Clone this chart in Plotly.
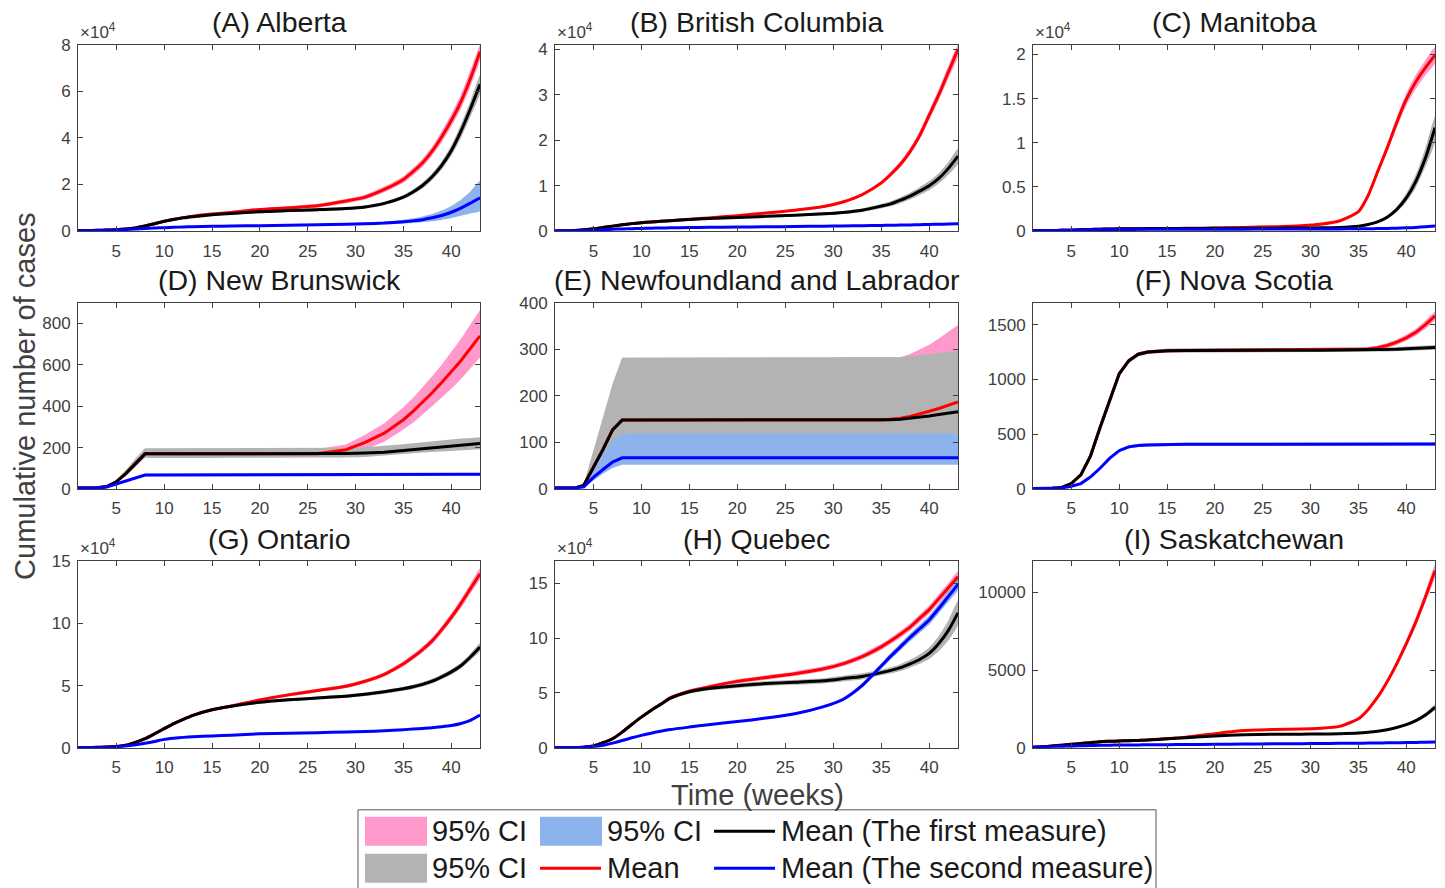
import plotly.graph_objects as go

# Week numbers at which every series is sampled
WEEKS = [1, 2, 3, 4, 5, 6, 7, 8, 9, 10, 11, 12, 13, 15, 17, 20, 23, 26, 29, 31,
         33, 35, 36, 37, 38, 39, 40, 41, 42, 43]

# ---------------- (A) Alberta ----------------
AB_RED = [200, 250, 350, 450, 600, 900, 1400, 2200, 3200, 4200, 5100, 5800, 6400, 7300, 8000, 9300, 10000, 10900, 12900, 14600,
          17900, 22200, 25500, 29300, 34300, 40500, 47500, 55500, 65500, 77000]
AB_RED_LO = [150, 200, 300, 400, 520, 800, 1250, 2000, 2950, 3900, 4750, 5400, 5950, 6800, 7450, 8650, 9300, 10100, 12000, 13600,
             16700, 20800, 23900, 27500, 32300, 38100, 44800, 52500, 62000, 73500]
AB_RED_HI = [250, 300, 400, 500, 680, 1000, 1550, 2400, 3450, 4500, 5450, 6200, 6850, 7800, 8550, 9950, 10700, 11700, 13800, 15600,
             19100, 23600, 27100, 31100, 36300, 42900, 50200, 58500, 69000, 79800]
AB_BLK = [200, 250, 350, 450, 600, 900, 1400, 2200, 3200, 4200, 5000, 5700, 6200, 7000, 7600, 8300, 8800, 9200, 9700, 10400,
          11900, 14600, 16800, 19600, 23300, 28200, 34500, 42800, 52500, 63000]
AB_BLK_LO = [150, 200, 300, 400, 520, 800, 1250, 2000, 2950, 3900, 4650, 5300, 5750, 6500, 7050, 7700, 8150, 8500, 9100, 9750,
             11150, 13650, 15700, 18300, 21800, 26400, 32300, 40000, 49200, 59000]
AB_BLK_HI = [250, 300, 400, 500, 680, 1000, 1550, 2400, 3450, 4500, 5350, 6100, 6650, 7500, 8150, 8900, 9450, 9900, 10300, 11050,
             12650, 15550, 17900, 20900, 24800, 30000, 36700, 45600, 55800, 67000]
AB_BLU = [100, 150, 250, 350, 500, 700, 900, 1100, 1300, 1500, 1650, 1780, 1900, 2050, 2200, 2350, 2500, 2700, 2950, 3150,
          3450, 4000, 4400, 4900, 5700, 6700, 8100, 9900, 12000, 14300]
AB_BLU_LO = [80, 120, 200, 300, 430, 600, 780, 950, 1130, 1300, 1430, 1540, 1640, 1770, 1900, 2020, 2150, 2320, 2520, 2680,
             2900, 3200, 3450, 3800, 4200, 4800, 5600, 6600, 7600, 8600]
AB_BLU_HI = [120, 180, 300, 400, 570, 800, 1020, 1250, 1470, 1700, 1870, 2020, 2160, 2330, 2500, 2680, 2860, 3100, 3400, 3650,
             4050, 4900, 5500, 6300, 7300, 8800, 10800, 13500, 17000, 21500]

# ---------------- (B) British Columbia ----------------
BC_RED = [40, 80, 150, 300, 500, 800, 1100, 1400, 1650, 1850, 2000, 2150, 2300, 2600, 2900, 3400, 4000, 4600, 5400, 6400,
          8000, 10600, 12500, 14700, 17500, 21000, 25500, 30000, 35000, 40000]
BC_RED_LO = [30, 70, 130, 270, 460, 750, 1030, 1320, 1560, 1750, 1890, 2030, 2170, 2450, 2740, 3220, 3790, 4370, 5130, 6080,
             7630, 10150, 11950, 14050, 16750, 20100, 24450, 28800, 33600, 38400]
BC_RED_HI = [50, 90, 170, 330, 540, 850, 1170, 1480, 1740, 1950, 2110, 2270, 2430, 2750, 3060, 3580, 4210, 4830, 5670, 6720,
             8370, 11050, 13050, 15350, 18250, 21900, 26550, 31200, 36400, 41000]
BC_BLK = [40, 80, 150, 300, 500, 800, 1100, 1400, 1650, 1850, 2000, 2150, 2300, 2550, 2750, 3000, 3250, 3500, 3800, 4100,
          4600, 5500, 6000, 6800, 7700, 8800, 10000, 11600, 13800, 16500]
BC_BLK_LO = [30, 65, 130, 260, 450, 730, 1010, 1290, 1520, 1700, 1840, 1980, 2120, 2350, 2530, 2760, 2990, 3220, 3500, 3770,
             4230, 5000, 5450, 6150, 6950, 7950, 9000, 10450, 12400, 14800]
BC_BLK_HI = [50, 95, 170, 340, 550, 870, 1190, 1510, 1780, 2000, 2160, 2320, 2480, 2750, 2970, 3240, 3510, 3780, 4100, 4430,
             4970, 6000, 6550, 7450, 8450, 9650, 11000, 12750, 15200, 18100]
BC_BLU = [20, 40, 70, 120, 200, 300, 400, 480, 540, 600, 650, 690, 720, 780, 830, 900, 960, 1020, 1090, 1140,
          1190, 1250, 1290, 1330, 1370, 1410, 1460, 1510, 1560, 1620]
BC_BLU_LO = [15, 35, 60, 110, 185, 280, 375, 450, 505, 560, 605, 645, 670, 725, 770, 840, 895, 950, 1010, 1060,
             1105, 1160, 1200, 1235, 1270, 1305, 1350, 1395, 1440, 1490]
BC_BLU_HI = [25, 45, 80, 130, 215, 320, 425, 510, 575, 640, 695, 735, 770, 835, 890, 960, 1025, 1090, 1170, 1220,
             1275, 1340, 1380, 1425, 1470, 1515, 1570, 1625, 1680, 1750]

# ---------------- (C) Manitoba ----------------
MB_RED = [30, 50, 70, 90, 110, 150, 190, 220, 240, 255, 265, 275, 285, 300, 320, 360, 420, 500, 620, 780,
          1150, 2200, 4000, 6700, 9400, 12300, 14900, 16900, 18500, 19900]
MB_RED_LO = [25, 45, 65, 85, 100, 140, 180, 210, 230, 245, 255, 265, 275, 290, 305, 345, 400, 475, 590, 745,
             1100, 2100, 3820, 6380, 8950, 11700, 14200, 16100, 17650, 19000]
MB_RED_HI = [35, 55, 75, 95, 120, 160, 200, 230, 250, 265, 275, 285, 295, 310, 335, 375, 440, 525, 650, 815,
             1200, 2300, 4180, 7020, 9850, 12900, 15600, 17700, 19350, 20800]
MB_BLK = [30, 50, 70, 90, 110, 150, 190, 220, 240, 255, 265, 275, 285, 295, 305, 315, 325, 335, 350, 370,
          420, 560, 750, 1050, 1580, 2450, 3760, 5640, 8270, 11700]
MB_BLK_LO = [25, 45, 65, 85, 100, 140, 180, 210, 228, 242, 252, 261, 270, 280, 290, 299, 308, 318, 332, 350,
             395, 500, 660, 920, 1380, 2150, 3300, 4950, 7300, 10100]
MB_BLK_HI = [35, 55, 75, 95, 120, 160, 200, 230, 252, 268, 278, 289, 300, 310, 320, 331, 342, 352, 368, 390,
             445, 620, 840, 1180, 1780, 2750, 4250, 6400, 9400, 13000]
MB_BLU = [30, 50, 70, 90, 110, 130, 150, 170, 180, 190, 195, 200, 205, 210, 215, 220, 225, 230, 235, 240,
          250, 265, 275, 290, 305, 330, 370, 420, 490, 570]
MB_BLU_LO = [25, 45, 65, 85, 100, 120, 140, 160, 170, 180, 185, 190, 195, 200, 204, 209, 213, 218, 223, 228,
             237, 250, 260, 274, 288, 311, 348, 395, 460, 535]
MB_BLU_HI = [35, 55, 75, 95, 120, 140, 160, 180, 190, 200, 205, 210, 215, 220, 226, 231, 237, 242, 247, 252,
             263, 280, 290, 306, 322, 349, 392, 445, 520, 605]

# ---------------- (D) New Brunswick ----------------
NB_RED = [5, 5, 6, 12, 35, 75, 125, 170, 170, 170, 170, 170, 170, 170, 170, 170, 170, 171, 190, 225,
          270, 335, 375, 420, 465, 515, 565, 620, 680, 740]
NB_RED_LO = [4, 4, 5, 10, 28, 65, 110, 155, 155, 155, 155, 155, 155, 155, 155, 155, 155, 155, 168, 192,
             228, 288, 320, 360, 400, 440, 485, 530, 580, 635]
NB_RED_HI = [6, 6, 8, 15, 42, 88, 142, 190, 190, 190, 190, 190, 190, 190, 190, 190, 190, 193, 215, 262,
             318, 395, 440, 490, 545, 600, 660, 725, 795, 865]
NB_BLK = [5, 5, 6, 12, 35, 75, 125, 170, 170, 170, 170, 170, 170, 170, 170, 170, 170, 171, 172, 174,
          178, 186, 190, 194, 198, 202, 207, 212, 216, 220]
NB_BLK_LO = [4, 4, 5, 10, 28, 62, 105, 150, 150, 150, 150, 150, 150, 150, 150, 150, 150, 151, 152, 155,
             160, 168, 172, 176, 179, 182, 185, 188, 190, 192]
NB_BLK_HI = [6, 6, 8, 15, 45, 92, 148, 197, 197, 197, 197, 197, 197, 197, 197, 197, 197, 198, 199, 202,
             208, 216, 221, 226, 231, 236, 240, 244, 247, 250]
NB_BLU = [5, 5, 6, 10, 25, 40, 55, 68, 68, 68, 68, 68, 68, 68, 68, 68, 68, 68, 68, 69,
          69, 70, 70, 70, 70, 71, 71, 71, 72, 72]
NB_BLU_LO = [4, 4, 5, 8, 21, 35, 49, 62, 62, 62, 62, 62, 62, 62, 62, 62, 62, 62, 62, 63,
             63, 64, 64, 64, 64, 65, 65, 65, 66, 66]
NB_BLU_HI = [6, 6, 7, 12, 29, 45, 61, 74, 74, 74, 74, 74, 74, 74, 74, 74, 74, 74, 74, 75,
             75, 76, 76, 76, 76, 77, 77, 77, 78, 78]

# ---------------- (E) Newfoundland and Labrador ----------------
NL_RED = [2, 2, 2, 8, 45, 85, 127, 148, 148, 148, 148, 148, 148, 148, 148, 148, 148, 148, 148, 148,
          148, 148, 150, 152, 156, 161, 167, 173, 180, 187]
NL_RED_LO = [2, 2, 2, 6, 30, 60, 95, 112, 112, 112, 112, 112, 112, 112, 112, 112, 112, 112, 112, 112,
             112, 112, 112, 112, 113, 113, 114, 114, 115, 116]
NL_RED_HI = [2, 2, 2, 10, 80, 153, 225, 282, 282, 282, 282, 282, 282, 282, 282, 282, 282, 282, 282, 282,
             282, 282, 282, 283, 290, 300, 310, 323, 337, 352]
NL_BLK = [2, 2, 2, 8, 45, 85, 127, 148, 148, 148, 148, 148, 148, 148, 148, 148, 148, 148, 148, 148,
          148, 148, 149, 150, 152, 154, 157, 160, 163, 166]
NL_BLK_LO = [2, 2, 2, 6, 30, 60, 95, 112, 112, 112, 112, 112, 112, 112, 112, 112, 112, 112, 112, 112,
             112, 112, 112, 112, 112, 112, 112, 112, 112, 112]
NL_BLK_HI = [2, 2, 2, 10, 80, 153, 225, 282, 282, 282, 282, 282, 282, 282, 282, 282, 282, 282, 282, 282,
             282, 282, 282, 283, 285, 287, 289, 291, 294, 297]
NL_BLU = [2, 2, 2, 5, 25, 42, 58, 67, 67, 67, 67, 67, 67, 67, 67, 67, 67, 67, 67, 67,
          67, 67, 67, 67, 67, 67, 67, 67, 67, 67]
NL_BLU_LO = [2, 2, 2, 4, 18, 33, 45, 52, 52, 52, 52, 52, 52, 52, 52, 52, 52, 52, 52, 52,
             52, 52, 52, 52, 52, 52, 52, 52, 52, 52]
NL_BLU_HI = [2, 2, 2, 6, 40, 75, 105, 118, 119, 119, 119, 119, 119, 119, 119, 119, 119, 119, 119, 119,
             119, 119, 119, 119, 119, 119, 119, 119, 119, 119]

# ---------------- (F) Nova Scotia ----------------
NS_RED = [5, 5, 8, 15, 50, 130, 300, 560, 810, 1050, 1170, 1230, 1250, 1262, 1265, 1267, 1267, 1267, 1267, 1268,
          1269, 1272, 1277, 1290, 1310, 1340, 1380, 1430, 1500, 1580]
NS_RED_LO = [4, 4, 7, 13, 45, 120, 285, 540, 785, 1025, 1150, 1212, 1233, 1245, 1248, 1250, 1250, 1250, 1250, 1251,
             1252, 1255, 1259, 1270, 1288, 1315, 1352, 1398, 1463, 1538]
NS_RED_HI = [6, 6, 9, 17, 55, 140, 315, 580, 835, 1075, 1190, 1248, 1267, 1279, 1282, 1284, 1284, 1284, 1284, 1285,
             1286, 1290, 1296, 1310, 1332, 1365, 1408, 1462, 1537, 1622]
NS_BLK = [5, 5, 8, 15, 50, 130, 300, 560, 810, 1050, 1170, 1230, 1250, 1262, 1265, 1267, 1267, 1267, 1267, 1267,
          1268, 1268, 1270, 1272, 1274, 1276, 1280, 1284, 1288, 1292]
NS_BLK_LO = [4, 4, 7, 13, 45, 120, 285, 540, 785, 1025, 1150, 1212, 1233, 1245, 1248, 1250, 1250, 1250, 1250, 1250,
             1251, 1251, 1252, 1254, 1255, 1257, 1260, 1263, 1266, 1270]
NS_BLK_HI = [6, 6, 9, 17, 55, 140, 315, 580, 835, 1075, 1190, 1248, 1267, 1279, 1282, 1284, 1284, 1284, 1284, 1284,
             1285, 1285, 1288, 1290, 1293, 1296, 1300, 1305, 1310, 1315]
NS_BLU = [5, 5, 5, 10, 25, 50, 110, 190, 280, 350, 385, 398, 403, 407, 408, 408, 408, 408, 408, 409,
          409, 409, 409, 409, 409, 410, 410, 410, 410, 410]
NS_BLU_LO = [4, 4, 4, 8, 20, 43, 100, 178, 266, 335, 370, 383, 388, 392, 393, 393, 393, 393, 393, 394,
             394, 394, 394, 394, 394, 395, 395, 395, 395, 395]
NS_BLU_HI = [6, 6, 6, 12, 30, 57, 120, 202, 294, 365, 400, 413, 418, 422, 423, 423, 423, 423, 423, 424,
             424, 424, 424, 424, 424, 425, 425, 425, 425, 425]

# ---------------- (G) Ontario ----------------
ON_RED = [100, 200, 300, 500, 1000, 2000, 4300, 7200, 11200, 15300, 19300, 22800, 26000, 30500, 33500, 38500, 42500, 46000, 49500, 53500,
          59000, 67500, 73000, 79000, 86000, 95000, 105000, 116000, 128000, 140000]
ON_RED_LO = [80, 170, 260, 450, 920, 1850, 4050, 6850, 10700, 14700, 18600, 22000, 25100, 29500, 32400, 37300, 41200, 44600, 48000, 51900,
             57200, 65500, 70800, 76600, 83400, 92200, 101900, 112500, 124200, 135800]
ON_RED_HI = [120, 230, 340, 550, 1080, 2150, 4550, 7550, 11700, 15900, 20000, 23600, 26900, 31500, 34600, 39700, 43800, 47400, 51000, 55100,
             60800, 69500, 75200, 81400, 88600, 97800, 108100, 119500, 131800, 144200]
ON_BLK = [100, 200, 300, 500, 1000, 2000, 4300, 7200, 11200, 15300, 19300, 22800, 26000, 30500, 33300, 36500, 38500, 40000, 41500, 43000,
          45000, 47500, 49000, 51000, 53500, 57000, 61000, 66000, 73000, 81000]
ON_BLK_LO = [80, 170, 260, 450, 920, 1850, 4050, 6850, 10700, 14700, 18600, 22000, 25100, 29500, 32200, 35300, 37300, 38700, 40100, 41600,
             43500, 45900, 47300, 49200, 51600, 55000, 58800, 63600, 70300, 78000]
ON_BLK_HI = [120, 230, 340, 550, 1080, 2150, 4550, 7550, 11700, 15900, 20000, 23600, 26900, 31500, 34400, 37700, 39700, 41300, 42900, 44400,
             46500, 49100, 50700, 52800, 55400, 59000, 63200, 68400, 75700, 84000]
ON_BLU = [50, 80, 150, 300, 600, 1300, 2300, 3500, 5000, 6700, 7600, 8300, 8800, 9500, 10000, 11200, 11700, 12100, 12600, 13000,
          13600, 14500, 15000, 15500, 16000, 16800, 17800, 19500, 22000, 26200]
ON_BLU_LO = [40, 70, 130, 270, 560, 1230, 2200, 3380, 4850, 6500, 7370, 8050, 8540, 9220, 9700, 10860, 11350, 11740, 12220, 12610,
             13190, 14070, 14550, 15040, 15520, 16300, 17270, 18920, 21340, 25400]
ON_BLU_HI = [60, 90, 170, 330, 640, 1370, 2400, 3620, 5150, 6900, 7830, 8550, 9060, 9780, 10300, 11540, 12050, 12460, 12980, 13390,
             14010, 14930, 15450, 15960, 16480, 17300, 18330, 20080, 22660, 27000]

# ---------------- (H) Quebec ----------------
QC_RED = [100, 100, 200, 500, 1500, 4500, 8200, 14200, 21200, 27900, 34000, 39500, 45500, 51500, 55500, 60500, 64000, 67500, 72000, 76500,
          83000, 92000, 97500, 103500, 110000, 118000, 126000, 136000, 146000, 156000]
QC_RED_LO = [80, 80, 170, 450, 1400, 4300, 7900, 13700, 20500, 27000, 32900, 38300, 44100, 49900, 53800, 58600, 62000, 65400, 69800, 74200,
             80500, 89200, 94600, 100400, 106700, 114500, 122200, 131900, 141600, 151300]
QC_RED_HI = [120, 120, 230, 550, 1600, 4700, 8500, 14700, 21900, 28800, 35100, 40700, 46900, 53100, 57200, 62400, 66000, 69600, 74200, 78800,
             85500, 94800, 100400, 106600, 113300, 121500, 129800, 140100, 150400, 160700]
QC_BLK = [100, 100, 200, 500, 1500, 4500, 8200, 14200, 21200, 27900, 34000, 39500, 45000, 51000, 54000, 56500, 58500, 59700, 61000, 63000,
          65000, 68500, 70500, 73000, 76500, 80500, 86000, 95000, 107000, 123000]
QC_BLK_LO = [80, 80, 170, 450, 1400, 4300, 7900, 13700, 20500, 27000, 32900, 38200, 43500, 49300, 52100, 54400, 56300, 57400, 58600, 60400,
             62200, 66000, 67800, 70000, 73000, 76500, 81000, 88000, 98000, 112000]
QC_BLK_HI = [120, 120, 230, 550, 1600, 4700, 8500, 14700, 21900, 28800, 35100, 40800, 46500, 52700, 55900, 58600, 60700, 62000, 63400, 65600,
             67800, 71000, 73300, 76200, 80200, 85000, 91500, 102000, 116000, 134000]
QC_BLU = [100, 100, 200, 400, 1000, 2200, 4200, 6500, 9000, 11200, 13200, 15000, 16500, 18800, 21000, 23800, 27000, 31000, 37500, 44000,
          56700, 74500, 83500, 92000, 100500, 108500, 116500, 127000, 138000, 149000]
QC_BLU_LO = [80, 80, 170, 360, 930, 2100, 4050, 6280, 8700, 10850, 12780, 14530, 15980, 18200, 20300, 23000, 26100, 29900, 36200, 42500,
             54700, 71900, 80600, 88800, 97000, 104700, 112400, 122600, 133200, 143800]
QC_BLU_HI = [120, 120, 230, 440, 1070, 2300, 4350, 6720, 9300, 11550, 13620, 15470, 17020, 19400, 21700, 24600, 27900, 32100, 38800, 45500,
             58700, 77100, 86400, 95200, 104000, 112300, 120600, 131400, 142800, 154200]

# ---------------- (I) Saskatchewan ----------------
SK_RED = [20, 60, 110, 160, 215, 270, 320, 385, 410, 430, 450, 470, 490, 580, 680, 900, 1100, 1170, 1200, 1250,
          1370, 1860, 2450, 3250, 4250, 5400, 6700, 8100, 9700, 11400]
SK_RED_LO = [15, 50, 100, 150, 205, 255, 305, 370, 395, 415, 435, 455, 475, 560, 655, 865, 1055, 1120, 1150, 1200,
             1315, 1790, 2360, 3130, 4100, 5210, 6470, 7820, 9370, 11000]
SK_RED_HI = [25, 70, 120, 170, 225, 285, 335, 400, 425, 445, 465, 485, 505, 600, 705, 935, 1145, 1220, 1250, 1300,
             1425, 1930, 2540, 3370, 4400, 5590, 6930, 8380, 10030, 11800]
SK_BLK = [20, 60, 110, 160, 215, 270, 320, 385, 410, 430, 450, 470, 490, 570, 640, 760, 830, 860, 870, 880,
          900, 940, 990, 1060, 1160, 1300, 1480, 1740, 2100, 2600]
SK_BLK_LO = [15, 50, 100, 150, 205, 255, 305, 370, 395, 415, 435, 455, 475, 550, 615, 730, 795, 825, 835, 845,
             862, 900, 945, 1010, 1100, 1230, 1400, 1640, 1970, 2420]
SK_BLK_HI = [25, 70, 120, 170, 225, 285, 335, 400, 425, 445, 465, 485, 505, 590, 665, 790, 865, 895, 905, 915,
             938, 980, 1035, 1110, 1220, 1370, 1560, 1840, 2230, 2780]
SK_BLU = [20, 40, 60, 80, 100, 120, 135, 150, 160, 170, 175, 180, 185, 195, 205, 220, 235, 250, 260, 270,
          280, 290, 295, 300, 310, 320, 330, 340, 350, 365]
SK_BLU_LO = [15, 35, 55, 72, 92, 110, 125, 140, 150, 160, 165, 170, 175, 185, 195, 209, 224, 239, 249, 258,
             268, 278, 283, 288, 297, 307, 317, 326, 336, 350]
SK_BLU_HI = [25, 45, 65, 88, 108, 130, 145, 160, 170, 180, 185, 190, 195, 205, 215, 231, 246, 261, 271, 282,
             292, 302, 307, 312, 323, 333, 343, 354, 364, 380]

TITLES = ["(A) Alberta", "(B) British Columbia", "(C) Manitoba",
          "(D) New Brunswick", "(E) Newfoundland and Labrador", "(F) Nova Scotia",
          "(G) Ontario", "(H) Quebec", "(I) Saskatchewan"]
Y_MAX = [80000, 41000, 21100, 900, 400, 1700, 150000, 170000, 12000]
Y_TICKVALS = [[0, 20000, 40000, 60000, 80000], [0, 10000, 20000, 30000, 40000],
              [0, 5000, 10000, 15000, 20000], [0, 200, 400, 600, 800], [0, 100, 200, 300, 400],
              [0, 500, 1000, 1500], [0, 50000, 100000, 150000], [0, 50000, 100000, 150000],
              [0, 5000, 10000]]
Y_TICKTEXT = [["0", "2", "4", "6", "8"], ["0", "1", "2", "3", "4"],
              ["0", "0.5", "1", "1.5", "2"], ["0", "200", "400", "600", "800"],
              ["0", "100", "200", "300", "400"], ["0", "500", "1000", "1500"],
              ["0", "5", "10", "15"], ["0", "5", "10", "15"], ["0", "5000", "10000"]]
SCALED = [True, True, True, False, False, False, True, True, False]
# piecewise-linear panels keep their corners, the others are drawn smooth
SMOOTH = [True, True, True, False, False, False, True, True, True]
X_TICKS = [5, 10, 15, 20, 25, 30, 35, 40]

SERIES = [
    (AB_RED, AB_RED_LO, AB_RED_HI, AB_BLK, AB_BLK_LO, AB_BLK_HI, AB_BLU, AB_BLU_LO, AB_BLU_HI),
    (BC_RED, BC_RED_LO, BC_RED_HI, BC_BLK, BC_BLK_LO, BC_BLK_HI, BC_BLU, BC_BLU_LO, BC_BLU_HI),
    (MB_RED, MB_RED_LO, MB_RED_HI, MB_BLK, MB_BLK_LO, MB_BLK_HI, MB_BLU, MB_BLU_LO, MB_BLU_HI),
    (NB_RED, NB_RED_LO, NB_RED_HI, NB_BLK, NB_BLK_LO, NB_BLK_HI, NB_BLU, NB_BLU_LO, NB_BLU_HI),
    (NL_RED, NL_RED_LO, NL_RED_HI, NL_BLK, NL_BLK_LO, NL_BLK_HI, NL_BLU, NL_BLU_LO, NL_BLU_HI),
    (NS_RED, NS_RED_LO, NS_RED_HI, NS_BLK, NS_BLK_LO, NS_BLK_HI, NS_BLU, NS_BLU_LO, NS_BLU_HI),
    (ON_RED, ON_RED_LO, ON_RED_HI, ON_BLK, ON_BLK_LO, ON_BLK_HI, ON_BLU, ON_BLU_LO, ON_BLU_HI),
    (QC_RED, QC_RED_LO, QC_RED_HI, QC_BLK, QC_BLK_LO, QC_BLK_HI, QC_BLU, QC_BLU_LO, QC_BLU_HI),
    (SK_RED, SK_RED_LO, SK_RED_HI, SK_BLK, SK_BLK_LO, SK_BLK_HI, SK_BLU, SK_BLU_LO, SK_BLU_HI),
]

# ---------------- styling ----------------
W_PX, H_PX = 1445, 888
FONT = "Liberation Sans, Arial, Helvetica, sans-serif"
PINK, GREY, LIGHTBLUE = "#ff99cc", "#b3b3b3", "#8cb3ec"
RED, BLACK, BLUE = "#ff0000", "#000000", "#0000ff"
AXIS_COLOR = "#404040"
TEXT_DARK = "#1a1a1a"
LINE_W = 3

# Layout grid in screen pixels (left/right, top/bottom of each plotting box)
COL_PX = [(78, 480), (555, 958), (1033, 1435)]
ROW_PX = [(43.3, 230), (301.7, 488.3), (560.7, 747.3)]
TITLE_Y = [21, 279, 538]

# The page is shown slightly shrunk vertically (top inset plus scale);
# screen rows are converted back to figure rows with this map.
PAGE_TOP, PAGE_SCALE = 7.56, 0.980


def fx(px):
    return px / W_PX


def fy(py):
    return 1 - ((py - PAGE_TOP) / PAGE_SCALE) / H_PX


fig = go.Figure()
layout = dict(
    width=W_PX, height=H_PX, margin=dict(l=0, r=0, t=0, b=0),
    paper_bgcolor="white", plot_bgcolor="white", showlegend=False,
    font=dict(family=FONT, color=AXIS_COLOR), hovermode=False,
)
annotations = []
shapes = []

for i in range(9):
    r, c = divmod(i, 3)
    n = i + 1
    xname, yname = ("x", "y") if n == 1 else (f"x{n}", f"y{n}")
    red, red_lo, red_hi, blk, blk_lo, blk_hi, blu, blu_lo, blu_hi = SERIES[i]
    shape = "spline" if SMOOTH[i] else "linear"

    def band(lo, hi, color):
        fig.add_trace(go.Scatter(
            x=WEEKS + WEEKS[::-1], y=hi + lo[::-1], mode="lines",
            fill="toself", fillcolor=color,
            line=dict(width=0, color=color, shape=shape, smoothing=0.6),
            xaxis=xname, yaxis=yname, hoverinfo="skip"))

    def mean_line(vals, color):
        fig.add_trace(go.Scatter(
            x=WEEKS, y=vals, mode="lines",
            line=dict(width=LINE_W, color=color, shape=shape, smoothing=0.6),
            xaxis=xname, yaxis=yname, hoverinfo="skip"))

    band(red_lo, red_hi, PINK)
    band(blk_lo, blk_hi, GREY)
    band(blu_lo, blu_hi, LIGHTBLUE)
    mean_line(red, RED)
    mean_line(blk, BLACK)
    mean_line(blu, BLUE)

    x0, x1 = COL_PX[c]
    y0, y1 = ROW_PX[r]
    axis_common = dict(
        showline=True, linecolor=AXIS_COLOR, linewidth=1, mirror="ticks",
        ticks="inside", ticklen=5, tickwidth=1, tickcolor=AXIS_COLOR,
        showgrid=False, zeroline=False, fixedrange=True,
        tickfont=dict(family=FONT, size=17, color=AXIS_COLOR),
    )
    layout["xaxis" + ("" if n == 1 else str(n))] = dict(
        axis_common, domain=[fx(x0), fx(x1)], anchor=yname, range=[1, 43],
        tickmode="array", tickvals=X_TICKS, ticklabelstandoff=4)
    layout["yaxis" + ("" if n == 1 else str(n))] = dict(
        axis_common, domain=[fy(y1), fy(y0)], anchor=xname, range=[0, Y_MAX[i]],
        tickmode="array", tickvals=Y_TICKVALS[i], ticktext=Y_TICKTEXT[i],
        ticklabelstandoff=3)

    annotations.append(dict(
        text=TITLES[i], xref="paper", yref="paper", x=fx((x0 + x1) / 2), y=fy(TITLE_Y[r]),
        xanchor="center", yanchor="middle", showarrow=False,
        font=dict(family=FONT, size=28.5, color=TEXT_DARK)))
    if SCALED[i]:
        annotations.append(dict(
            text="\u00d710<sup>4</sup>", xref="paper", yref="paper", x=fx(x0), y=fy(y0 - 1),
            xanchor="left", yanchor="bottom", showarrow=False,
            font=dict(family=FONT, size=17, color=AXIS_COLOR)))

# Shared axis titles
annotations.append(dict(
    text="Cumulative number of cases", xref="paper", yref="paper", x=fx(25), y=fy(395),
    xanchor="center", yanchor="middle", textangle=-90, showarrow=False,
    font=dict(family=FONT, size=29, color=AXIS_COLOR)))
annotations.append(dict(
    text="Time (weeks)", xref="paper", yref="paper", x=fx(757), y=fy(795),
    xanchor="center", yanchor="middle", showarrow=False,
    font=dict(family=FONT, size=29, color=AXIS_COLOR)))

# Legend box (two rows, three columns)
shapes.append(dict(type="rect", xref="paper", yref="paper",
                   x0=fx(358), x1=fx(1156), y0=fy(900), y1=fy(809.5),
                   line=dict(color="#555555", width=1), fillcolor="white", layer="above"))
LEGEND_ROWS = [831, 868]
legend_items = [
    ("patch", PINK, 365, 0), ("patch", LIGHTBLUE, 540, 0), ("line", BLACK, 714, 0),
    ("patch", GREY, 365, 1), ("line", RED, 540, 1), ("line", BLUE, 714, 1),
]
legend_text = ["95% CI", "95% CI", "Mean (The first measure)",
               "95% CI", "Mean", "Mean (The second measure)"]
for (kind, color, lx, row), label in zip(legend_items, legend_text):
    cy = LEGEND_ROWS[row]
    if kind == "patch":
        shapes.append(dict(type="rect", xref="paper", yref="paper",
                           x0=fx(lx), x1=fx(lx + 62), y0=fy(cy + 14.5), y1=fy(cy - 14.5),
                           line=dict(width=0), fillcolor=color, layer="above"))
    else:
        shapes.append(dict(type="line", xref="paper", yref="paper",
                           x0=fx(lx), x1=fx(lx + 61), y0=fy(cy), y1=fy(cy),
                           line=dict(color=color, width=LINE_W), layer="above"))
    annotations.append(dict(
        text=label, xref="paper", yref="paper", x=fx(lx + 65), y=fy(cy),
        xanchor="left", yanchor="middle", showarrow=False,
        font=dict(family=FONT, size=29, color=TEXT_DARK)))

layout["annotations"] = annotations
layout["shapes"] = shapes
fig.update_layout(**layout)

fig.write_html(
    "out.html",
    config={"displayModeBar": False, "staticPlot": True},
    post_script="document.body.style.margin='0';document.body.style.overflow='hidden';",
)
